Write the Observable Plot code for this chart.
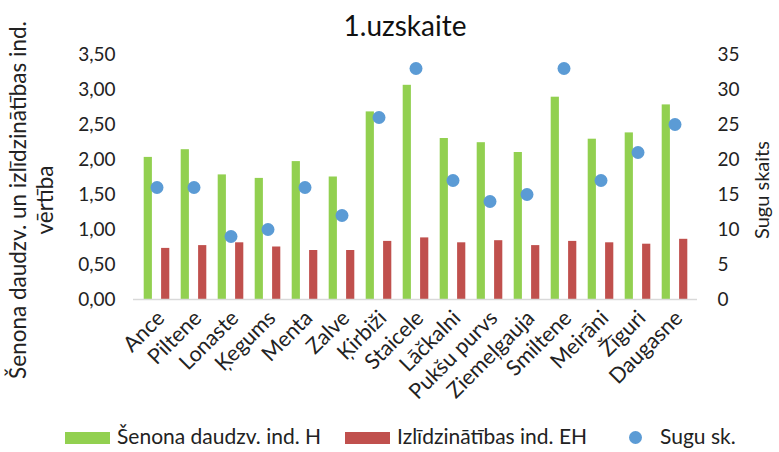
<!DOCTYPE html>
<html>
<head>
<meta charset="utf-8">
<script src="https://cdn.jsdelivr.net/npm/d3@7"></script>
<script src="https://cdn.jsdelivr.net/npm/@observablehq/plot@0.6"></script>
<style>
  body { margin: 0; background: #fff; font-family: Lato, "Open Sans", sans-serif; }
  #wrap { position: relative; width: 779px; height: 452px; overflow: hidden; background: #fff; }
  #chart { position: absolute; left: 0; top: 0; }
  .title { position: absolute; left: 255px; width: 300px; top: 8px; text-align: center; font-size: 28px; color: #111; }
  .ytitle { position: absolute; white-space: nowrap; color: #222; text-align: center; line-height: 27px;
            transform: translate(-50%, -50%) rotate(-90deg); }
  .legend { position: absolute; top: 424px; font-size: 21px; color: #222; white-space: nowrap; line-height: 24px; }
  .sw { display: inline-block; width: 45px; height: 12px; vertical-align: middle; margin-right: 7px; position: relative; top: -1px; }
  .dotsw { display: inline-block; width: 13px; height: 13px; border-radius: 50%; vertical-align: middle; margin-right: 18px; position: relative; top: -1px; }
</style>
</head>
<body>
<div id="wrap">
  <div id="chart"></div>
  <div class="title" id="title"></div>
  <div class="ytitle" id="ylabel" style="left:31px; top:200px; font-size:22.5px;"></div>
  <div class="ytitle" id="y2label" style="left:761px; top:190px; font-size:20px;"></div>
  <div class="legend" id="leg1" style="left:65px;"></div>
  <div class="legend" id="leg2" style="left:345px;"></div>
  <div class="legend" id="leg3" style="left:629px;"></div>
</div>
<script>
// ---- data ----
const sites = ["Ance","Piltene","Lonaste","Ķegums","Menta","Zalve","Ķirbiži","Staicele","Lāčkalni","Pukšu purvs","Ziemeļgauja","Smiltene","Meirāni","Žīguri","Daugasne"];
const shannonH   = [2.03, 2.14, 1.78, 1.73, 1.97, 1.75, 2.68, 3.06, 2.30, 2.24, 2.10, 2.89, 2.29, 2.38, 2.78];
const evennessEH = [0.73, 0.77, 0.81, 0.75, 0.70, 0.70, 0.83, 0.88, 0.81, 0.84, 0.77, 0.83, 0.81, 0.79, 0.86];
const speciesCount = [16, 16, 9, 10, 16, 12, 26, 33, 17, 14, 15, 33, 17, 21, 25];
const leftTicks  = [0, 0.5, 1, 1.5, 2, 2.5, 3, 3.5];
const rightTicks = [0, 5, 10, 15, 20, 25, 30, 35];
const seriesNames = ["Šenona daudzv. ind. H", "Izlīdzinātības ind. EH", "Sugu sk."];
const titleText = "1.uzskaite";
const yLabelLines = ["Šenona daudzv. un izlīdzinātības ind.", "vērtība"];
const y2Label = "Sugu skaits";
const colors = ["#92D050", "#C0504D", "#5B9BD5"];

const rows = sites.map((s, i) => ({site: s, H: shannonH[i], EH: evennessEH[i], S: speciesCount[i]}));
const leftMax = leftTicks[leftTicks.length - 1], rightMax = rightTicks[rightTicks.length - 1];
const ratio = leftMax / rightMax;
const fmtLeft = d => d.toFixed(2).replace(".", ",");

const chart = Plot.plot({
  width: 779, height: 452,
  marginLeft: 133, marginRight: 82, marginTop: 54, marginBottom: 153,
  style: {fontFamily: "Lato, 'Open Sans', sans-serif", fontSize: "19px", color: "#222", background: "transparent"},
  x: {domain: sites, padding: 0, axis: null},
  y: {domain: [0, leftMax], axis: null},
  marks: [
    Plot.axisY({ticks: leftTicks, tickFormat: fmtLeft, tickSize: 0, tickPadding: 18, label: null, fontSize: 19}),
    Plot.axisY({anchor: "right", ticks: rightTicks.map(v => v * ratio), tickFormat: d => String(Math.round(d / ratio)), tickSize: 0, tickPadding: 20, label: null, fontSize: 19}),
    Plot.axisX({tickRotate: -45, tickSize: 0, tickPadding: 15, dx: 4, label: null, fontSize: 21.5}),
    Plot.barY(rows, {x: "site", y: "H", fill: colors[0], insetLeft: 5.7, insetRight: 23.1}),
    Plot.barY(rows, {x: "site", y: "EH", fill: colors[1], insetLeft: 23.1, insetRight: 5.7}),
    Plot.ruleY([0], {stroke: "#d9d9d9", strokeWidth: 1.5}),
    Plot.dot(rows, {x: "site", y: d => d.S * ratio, r: 6.5, fill: colors[2], stroke: null})
  ]
});
document.getElementById("chart").appendChild(chart);

document.getElementById("title").textContent = titleText;
document.getElementById("ylabel").innerHTML = yLabelLines.join("<br>");
document.getElementById("y2label").textContent = y2Label;
document.getElementById("leg1").innerHTML = `<span class="sw" style="background:${colors[0]}"></span>${seriesNames[0]}`;
document.getElementById("leg2").innerHTML = `<span class="sw" style="background:${colors[1]}"></span>${seriesNames[1]}`;
document.getElementById("leg3").innerHTML = `<span class="dotsw" style="background:${colors[2]}"></span>${seriesNames[2]}`;
</script>
</body>
</html>
